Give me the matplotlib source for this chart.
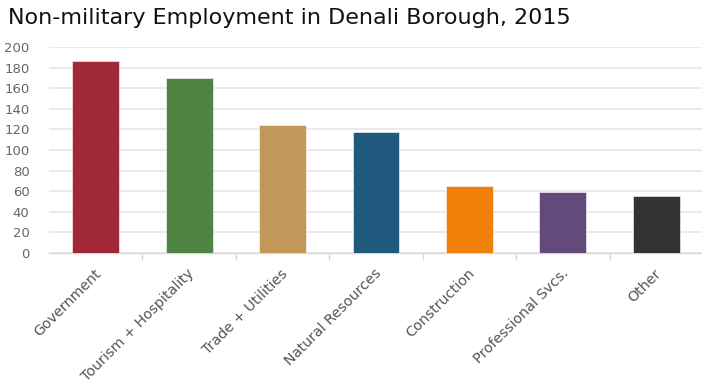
import matplotlib
matplotlib.use('Agg')
import matplotlib.pyplot as plt

categories = ['Government', 'Tourism + Hospitality', 'Trade + Utilities', 'Natural Resources',
              'Construction', 'Professional Svcs.', 'Other']
values = [186, 170, 124, 117, 65, 59, 55]
colors = ['#a02838', '#4e8542', '#c1975a', '#1f5a7e', '#ef800a', '#634a7a', '#333333']
yticks = [0, 20, 40, 60, 80, 100, 120, 140, 160, 180, 200]

plt.rcParams['font.family'] = ['DejaVu Sans']

fig = plt.figure(figsize=(7.02, 3.88), dpi=100)
ax = fig.add_axes([49 / 702, 135 / 388, 654 / 702, 206 / 388])

x = range(len(categories))
ax.bar(x, values, width=0.5, color=colors, edgecolor='white', linewidth=0.4, zorder=3)

ax.set_xlim(-0.5, len(categories) - 0.5)
ax.set_ylim(0, 200)
ax.set_yticks(yticks)
ax.grid(axis='y', color='#e6e6e6', linewidth=1.2, zorder=0)

for s in ['top', 'right', 'left']:
    ax.spines[s].set_visible(False)
ax.spines['bottom'].set_color('#d8d8d8')
ax.spines['bottom'].set_linewidth(1.0)

ax.set_xticks([i + 0.5 for i in range(len(categories) - 1)])
ax.set_xticklabels([])
ax.tick_params(axis='x', length=5, color='#d8d8d8', width=1)
ax.tick_params(axis='y', length=0, labelsize=9.5, labelcolor='#666666', pad=14)

for i, name in enumerate(categories):
    ax.text(i - 0.02, -13, name, rotation=45, ha='right', va='top', rotation_mode='anchor',
            fontsize=10.3, color='#555555')

fig.text(8 / 702, 1 - 18 / 388, 'Non-military Employment in Denali Borough, 2015',
         fontsize=16, color='#111111', va='center', ha='left')

fig.savefig('out.png', dpi=100)
